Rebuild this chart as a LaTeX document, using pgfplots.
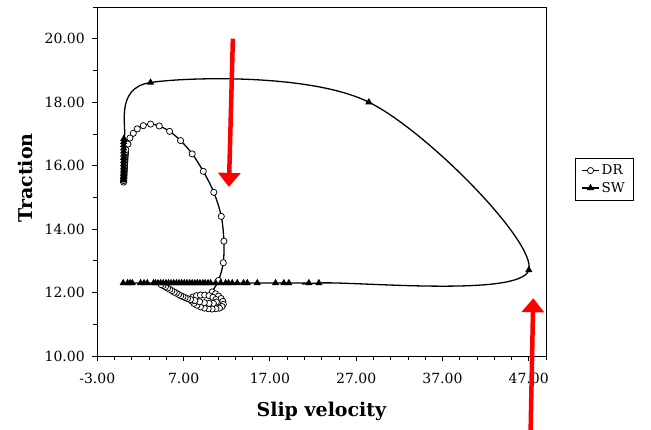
\documentclass[border=0pt]{standalone}
\usepackage{fontspec}
\setmainfont{DejaVu Serif}
\usepackage{pgfplots}
\pgfplotsset{compat=1.18}
\usetikzlibrary{arrows.meta}
\begin{document}
\begin{tikzpicture}
\useasboundingbox (0,0) rectangle (651pt,430pt);
\begin{axis}[
  at={(97.3pt,74pt)}, anchor=south west,
  scale only axis, width=448.7pt, height=349pt,
  xmin=-3, xmax=49, ymin=10, ymax=21,
  clip=false,
  xtick={-3,7,17,27,37,47},
  xticklabels={-3.00,7.00,17.00,27.00,37.00,47.00},
  minor xtick={-1,1,3,5,9,11,13,15,19,21,23,25,29,31,33,35,39,41,43,45,49},
  ytick={10,12,14,16,18,20},
  yticklabels={10.00,12.00,14.00,16.00,18.00,20.00},
  minor ytick={11,13,15,17,19,21},
  tick align=outside, xtick pos=bottom, ytick pos=left,
  major tick length=5pt, minor tick length=4pt,
  every tick/.style={black, line width=0.8pt},
  axis line style={line width=0.8pt},
  ticklabel style={font=\fontsize{14}{16}\selectfont},
  xticklabel style={yshift=-8.5pt},
  yticklabel style={xshift=-4pt},
  xlabel={\textbf{Slip velocity}},
  ylabel={\textbf{Traction}},
  xlabel style={font=\fontsize{19}{22}\selectfont, at={(axis description cs:0.5,-0.16)}, anchor=center},
  ylabel style={font=\fontsize{19}{22}\selectfont, at={(axis description cs:-0.16,0.51)}, anchor=center, rotate=0},
  legend style={at={(axis description cs:1.0647,0.567)}, anchor=north west,
    draw=black, line width=0.6pt, font=\fontsize{13.5}{16}\selectfont,
    inner xsep=6pt, inner ysep=4.5pt, row sep=2pt, cells={anchor=west}},
  legend cell align=left,
]
\addplot[black, line width=1.3pt, smooth, tension=0.55, mark=*, mark size=3.1pt,
  mark options={fill=white, draw=black, line width=0.75pt, solid}] coordinates {
(0.05,15.48)(0.06,15.53)(0.07,15.58)(0.08,15.63)(0.09,15.68)(0.10,15.73)(0.11,15.78)
(0.12,15.83)(0.13,15.88)(0.14,15.93)(0.15,15.98)(0.16,16.03)(0.17,16.08)(0.19,16.13)
(0.20,16.18)(0.21,16.23)(0.22,16.28)(0.24,16.33)(0.25,16.38)(0.27,16.43)(0.30,16.50)
(0.55,16.68)(0.78,16.87)(1.17,17.02)(1.63,17.16)(2.33,17.26)(3.18,17.31)(4.18,17.25)
(5.38,17.08)(6.65,16.79)(8.00,16.37)(9.28,15.82)(10.50,15.16)(11.37,14.40)(11.67,13.62)
(11.60,12.94)(11.05,12.38)
(10.32,12.02)(10.70,11.96)(11.05,11.89)(11.35,11.81)(11.55,11.72)(11.60,11.63)(11.45,11.56)
(11.15,11.51)(10.75,11.49)(10.30,11.48)(9.85,11.49)(9.40,11.51)(8.95,11.55)(8.55,11.60)
(8.20,11.66)(7.95,11.73)(7.90,11.80)(8.10,11.86)(8.50,11.90)(8.95,11.92)(9.45,11.92)
(9.95,11.90)(10.40,11.85)(10.75,11.78)(10.80,11.70)(10.45,11.66)(9.95,11.66)(9.40,11.68)
(8.85,11.71)(8.30,11.75)(7.80,11.78)
(7.44,11.81)(7.18,11.84)(6.93,11.87)(6.67,11.90)(6.42,11.94)(6.16,11.98)(5.91,12.01)
(5.65,12.06)(5.40,12.10)(5.14,12.14)(4.89,12.18)(4.63,12.22)(4.40,12.25)
};
\addlegendentry{DR}
\addplot[black, line width=1.3pt, smooth, tension=0.55, mark=triangle*, mark size=2.9pt,
  mark options={fill=black, solid}] coordinates {
(0.05,15.55)(0.05,15.65)(0.05,15.75)(0.05,15.85)(0.05,15.95)(0.05,16.05)(0.05,16.15)
(0.05,16.25)(0.05,16.35)(0.05,16.45)(0.05,16.55)(0.05,16.65)(0.06,16.75)(0.08,16.85)
(3.17,18.62)(28.47,18.00)(47.01,12.71)
(22.68,12.30)(21.52,12.30)(19.20,12.30)(18.62,12.30)(17.66,12.30)(15.54,12.30)(14.38,12.30)
(13.95,12.30)(13.22,12.30)(12.64,12.30)(12.21,12.30)(11.87,12.30)(11.29,12.30)(10.71,12.30)
(10.13,12.30)(9.83,12.30)(9.50,12.30)(9.22,12.30)(8.90,12.30)(8.61,12.30)(8.31,12.30)
(8.00,12.30)(7.70,12.30)(7.38,12.30)(7.08,12.30)(6.77,12.30)(6.47,12.30)(6.18,12.30)
(5.86,12.30)(5.55,12.30)(5.25,12.30)(4.96,12.30)(4.64,12.30)(4.33,12.30)(4.03,12.30)
(3.74,12.30)(3.52,12.30)(2.79,12.30)(2.42,12.30)(2.02,12.30)(1.05,12.30)(0.80,12.30)
(0.51,12.30)(0.00,12.30)
};
\addlegendentry{SW}
\draw[red, line width=4.5pt, -{Triangle[width=22pt,length=14pt]}] (axis cs:12.71,20.0) -- (axis cs:12.25,15.33);
\draw[red, line width=4.5pt, -{Triangle[width=22pt,length=14pt]}] (axis cs:47.21,7.55) -- (axis cs:47.52,11.82);
\end{axis}
\end{tikzpicture}
\end{document}
